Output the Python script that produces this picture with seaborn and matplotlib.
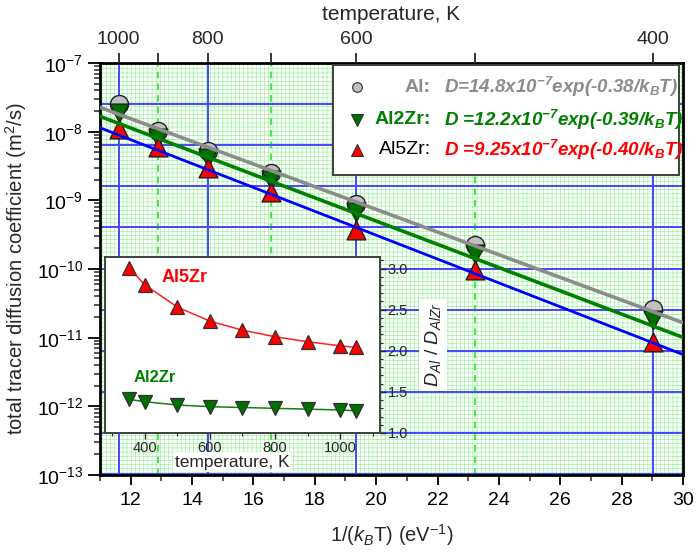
import numpy as np
import pandas as pd
import seaborn as sns
import matplotlib
matplotlib.use("Agg")
import matplotlib.pyplot as plt
from matplotlib.patches import Rectangle
from matplotlib.ticker import LogLocator, FixedLocator, MultipleLocator, NullFormatter, FixedFormatter

sns.set_theme(style="ticks")
plt.rcParams['font.family'] = ['Liberation Sans', 'DejaVu Sans']
plt.rcParams['mathtext.fontset'] = 'custom'
plt.rcParams['mathtext.rm'] = 'Liberation Sans'
plt.rcParams['mathtext.it'] = 'Liberation Sans:italic'
plt.rcParams['mathtext.bf'] = 'Liberation Sans:bold'
plt.rcParams['hatch.linewidth'] = 0.45

# ---------------- data ----------------
KB = 8.617e-5  # eV/K
temps_main = [1000, 900, 800, 700, 600, 500, 400]
D_Al = [2.5e-8, 1.03e-8, 5.26e-9, 2.52e-9, 8.8e-10, 2.22e-10, 2.65e-11]
D_Al2Zr = [1.85e-8, 7.98e-9, 4.07e-9, 1.97e-9, 6.65e-10, 1.64e-10, 1.79e-11]
D_Al5Zr = [1.09e-8, 5.9e-9, 2.92e-9, 1.33e-9, 3.67e-10, 9.8e-11, 8.7e-12]

fit_x = [11, 30]
fit_Al = [2.26e-8, 1.65e-11]
fit_Al2Zr = [1.67e-8, 1.01e-11]
fit_Al5Zr = [1.14e-8, 5.68e-12]

inset_T = [350, 400, 500, 600, 700, 800, 900, 1000, 1050]
ratio_Al5Zr = [3.01, 2.80, 2.53, 2.36, 2.25, 2.17, 2.11, 2.06, 2.04]
ratio_Al2Zr = [1.41, 1.38, 1.34, 1.32, 1.31, 1.30, 1.29, 1.28, 1.27]

top_major_T = [1000, 800, 600, 400]
top_minor_T = [900, 700, 500]
x_ticks = [12, 14, 16, 18, 20, 22, 24, 26, 28, 30]
inset_xticks = [400, 600, 800, 1000]
inset_yticks = [1.0, 1.5, 2.0, 2.5, 3.0]

series_names = ["Al", "Al2Zr", "Al5Zr"]
legend_labels = ["Al:", "Al2Zr:", "Al5Zr:"]
legend_formulas = [r"D=14.8x10$^{\mathdefault{-7}}$exp(-0.38/k$_{\mathdefault{B}}$T)",
                   r"D =12.2x10$^{\mathdefault{-7}}$exp(-0.39/k$_{\mathdefault{B}}$T)",
                   r"D =9.25x10$^{\mathdefault{-7}}$exp(-0.40/k$_{\mathdefault{B}}$T)"]

# ---------------- styles ----------------
fill_cols = ["#c0c0c0", "#007000", "#ff0000"]
line_cols = ["#8c8c8c", "#008000", "#0000ff"]
label_cols = ["#8c8c8c", "#008000", "#000000"]
label_weights = ["bold", "bold", "normal"]
formula_cols = ["#8c8c8c", "#008000", "#ff0000"]
markers = ["o", "v", "^"]
msizes = [13, 13.5, 13.5]

W, H = 696, 559
def frect(l, t, r, b):
    return [l / W, 1 - b / H, (r - l) / W, (b - t) / H]

fig = plt.figure(figsize=(W / 100, H / 100), dpi=100)
MAIN = (100, 63, 683, 475)
INSET = (105, 257, 380, 433)

ax_bg = fig.add_axes(frect(*MAIN), zorder=0)
ax = fig.add_axes(frect(*MAIN), zorder=1)
ax.patch.set_visible(False)
ax_in = fig.add_axes(frect(*INSET), zorder=4)

x_main = [1.0 / (KB * t) for t in temps_main]
df = pd.DataFrame({"x": x_main * 3,
                   "D": D_Al + D_Al2Zr + D_Al5Zr,
                   "series": sum([[s] * len(x_main) for s in series_names], [])})
df_fit = pd.DataFrame({"x": fit_x * 3, "D": fit_Al + fit_Al2Zr + fit_Al5Zr,
                       "series": sum([[s] * 2 for s in series_names], [])})

# ---------------- main axes ----------------
ax.set_yscale("log")
for i, s in enumerate(series_names):
    sub = df[df.series == s]
    sns.scatterplot(data=sub, x="x", y="D", ax=ax, marker=markers[i], s=msizes[i] ** 2,
                    color=fill_cols[i], edgecolor="#202020", linewidth=1.0, zorder=3 + i * 0.1,
                    legend=False)
for i, s in enumerate(series_names):
    sub = df_fit[df_fit.series == s]
    sns.lineplot(data=sub, x="x", y="D", ax=ax, color=line_cols[i],
                 lw=2.6 if i < 2 else 2.0, zorder=4, sort=False, legend=False)

ax.set_xlim(11, 30)
ax.set_ylim(1e-13, 1e-7)
ax.xaxis.set_major_locator(FixedLocator(x_ticks))
ax.xaxis.set_minor_locator(MultipleLocator(1))
ax.yaxis.set_major_locator(LogLocator(base=10, numticks=20))
ax.yaxis.set_minor_locator(LogLocator(base=10, subs=np.arange(2, 10), numticks=100))
ax.yaxis.set_minor_formatter(NullFormatter())
ax.tick_params(axis="both", which="major", direction="out", labelsize=14, width=1.3,
               colors="black", top=False, right=False)
ax.tick_params(axis="x", which="major", length=7, pad=5)
ax.tick_params(axis="y", which="major", length=9, pad=3)
ax.tick_params(axis="both", which="minor", direction="out", length=4.5, width=1.1,
               top=False, right=False)
for sp in ax.spines.values():
    sp.set_linewidth(2.0)
    sp.set_color("black")
    sp.set_visible(True)
ax.set_xlabel(r"1/($\mathit{k}_{\mathit{B}}$T) (eV$^{-1}$)", fontsize=14.5, labelpad=10)
ax.set_ylabel(r"total tracer diffusion coefficient (m$^{2}$/s)", fontsize=14.5, labelpad=6)

# top temperature axis
ax_top = ax.twiny()
ax_top.set_zorder(2)
ax_top.set_xlim(ax.get_xlim())
ax_top.xaxis.set_major_locator(FixedLocator([1.0 / (KB * t) for t in top_major_T]))
ax_top.xaxis.set_major_formatter(FixedFormatter([str(t) for t in top_major_T]))
ax_top.xaxis.set_minor_locator(FixedLocator([1.0 / (KB * t) for t in top_minor_T]))
ax_top.tick_params(axis="x", which="both", direction="out", length=7, width=1.3,
                   labelsize=14, pad=4)
ax_top.tick_params(axis="y", which="both", left=False, right=False, labelleft=False, labelright=False)
for sp in ax_top.spines.values():
    sp.set_visible(False)
ax_top.set_xlabel("temperature, K", fontsize=15, labelpad=8)

# ---------------- inset ----------------
ins_df = pd.DataFrame({"T": inset_T * 2, "r": ratio_Al5Zr + ratio_Al2Zr,
                       "series": ["Al5Zr"] * len(inset_T) + ["Al2Zr"] * len(inset_T)})
sns.lineplot(data=ins_df[ins_df.series == "Al5Zr"], x="T", y="r", ax=ax_in, color="#ff2020",
             lw=1.1, marker="^", markersize=9.5, markerfacecolor="#ff0000",
             markeredgecolor="#303030", markeredgewidth=0.9, legend=False)
sns.lineplot(data=ins_df[ins_df.series == "Al2Zr"], x="T", y="r", ax=ax_in, color="#108010",
             lw=1.1, marker="v", markersize=9.5, markerfacecolor="#007000",
             markeredgecolor="#303030", markeredgewidth=0.9, legend=False)
ax_in.set_xlim(277, 1123)
ax_in.set_ylim(1.0, 3.14)
ax_in.set_facecolor("white")
ax_in.xaxis.set_major_locator(FixedLocator(inset_xticks))
ax_in.xaxis.set_minor_locator(MultipleLocator(100))
ax_in.yaxis.set_major_locator(FixedLocator(inset_yticks))
ax_in.yaxis.set_major_formatter(FixedFormatter(["%.1f" % v for v in inset_yticks]))
ax_in.yaxis.set_minor_locator(MultipleLocator(0.1))
ax_in.yaxis.tick_right()
ax_in.tick_params(axis="both", which="major", direction="out", length=4.5, width=1.0,
                  labelsize=10.5, pad=1)
ax_in.tick_params(axis="both", which="minor", direction="out", length=2.5, width=0.8)
ax_in.tick_params(axis="y", which="both", left=False, right=True, labelleft=False, labelright=True)
for sp in ax_in.spines.values():
    sp.set_linewidth(1.4)
    sp.set_color("#404040")
ax_in.set_xlabel("")
ax_in.set_ylabel("")
ax_in.text(523, 2.89, "Al5Zr", color="#ff0000", fontsize=13, fontweight="bold",
           ha="center", va="center")
ax_in.text(431, 1.67, "Al2Zr", color="#008000", fontsize=12, fontweight="bold",
           ha="center", va="center")
fig.text(232 / W, 1 - 462 / H, "temperature, K", fontsize=12.5, ha="center", va="center",
         bbox=dict(facecolor="white", edgecolor="none", pad=1.5), zorder=5)
fig.text(433 / W, 1 - 345 / H, r"$\mathit{D}_{\mathit{Al}}$ / $\mathit{D}_{\mathit{AlZr}}$",
         fontsize=14, rotation=90, ha="center", va="center",
         bbox=dict(facecolor="white", edgecolor="none", pad=3), zorder=5)

# ---------------- background grid (ratio-aligned horizontal lines) ----------------
ipos = ax_in.get_position()
mpos = ax.get_position()
y0i, y1i = ax_in.get_ylim()
scale = (y1i - y0i) / ipos.height
ax_bg.set_ylim(y0i - (ipos.y0 - mpos.y0) * scale, y0i + (mpos.y1 - ipos.y0) * scale)
ax_bg.set_xlim(ax.get_xlim())
ax_bg.add_patch(Rectangle((0, 0), 1, 1, transform=ax_bg.transAxes, facecolor="white",
                          edgecolor="#98f098", hatch="++++", lw=0, zorder=0))
ax_bg.xaxis.set_major_locator(FixedLocator([1.0 / (KB * t) for t in top_major_T]))
ax_bg.xaxis.set_minor_locator(FixedLocator([1.0 / (KB * t) for t in top_minor_T]))
ax_bg.yaxis.set_major_locator(MultipleLocator(0.5))
ax_bg.yaxis.set_minor_locator(FixedLocator([]))
ax_bg.grid(True, which="major", axis="both", color="#4646ff", lw=1.4, ls="-")
ax_bg.grid(True, which="minor", axis="x", color="#30e030", lw=1.2, ls=(0, (4, 3)))
ax_bg.set_axisbelow(False)
ax_bg.tick_params(which="both", length=0, labelbottom=False, labelleft=False)
for sp in ax_bg.spines.values():
    sp.set_visible(False)

# ---------------- legend box ----------------
def axp(x, y):
    return ((x - MAIN[0]) / (MAIN[2] - MAIN[0]), (MAIN[3] - y) / (MAIN[3] - MAIN[1]))

l0 = axp(333, 175)
l1 = axp(679, 65)
ax.add_patch(Rectangle(l0, l1[0] - l0[0], l1[1] - l0[1], transform=ax.transAxes,
                       facecolor="white", edgecolor="#404040", lw=1.4, zorder=10))
row_y = [87, 120, 150]
leg_ms = [7, 8, 8]
for i in range(3):
    mx, my = axp(357, row_y[i])
    ax.plot([mx], [my], transform=ax.transAxes, marker=markers[i], ms=leg_ms[i],
            mfc=fill_cols[i], mec="#303030", mew=0.8, ls="none", zorder=11)
    tx, ty = axp(431, row_y[i])
    ax.text(tx, ty, legend_labels[i], transform=ax.transAxes, color=label_cols[i],
            fontweight=label_weights[i], fontsize=14, ha="right", va="center", zorder=12)
    fx, fy = axp(444, row_y[i])
    ax.text(fx, fy, legend_formulas[i], transform=ax.transAxes, color=formula_cols[i],
            fontweight="bold", style="italic", fontsize=13.5, ha="left", va="center", zorder=12)

fig.savefig("out.png", dpi=100)
